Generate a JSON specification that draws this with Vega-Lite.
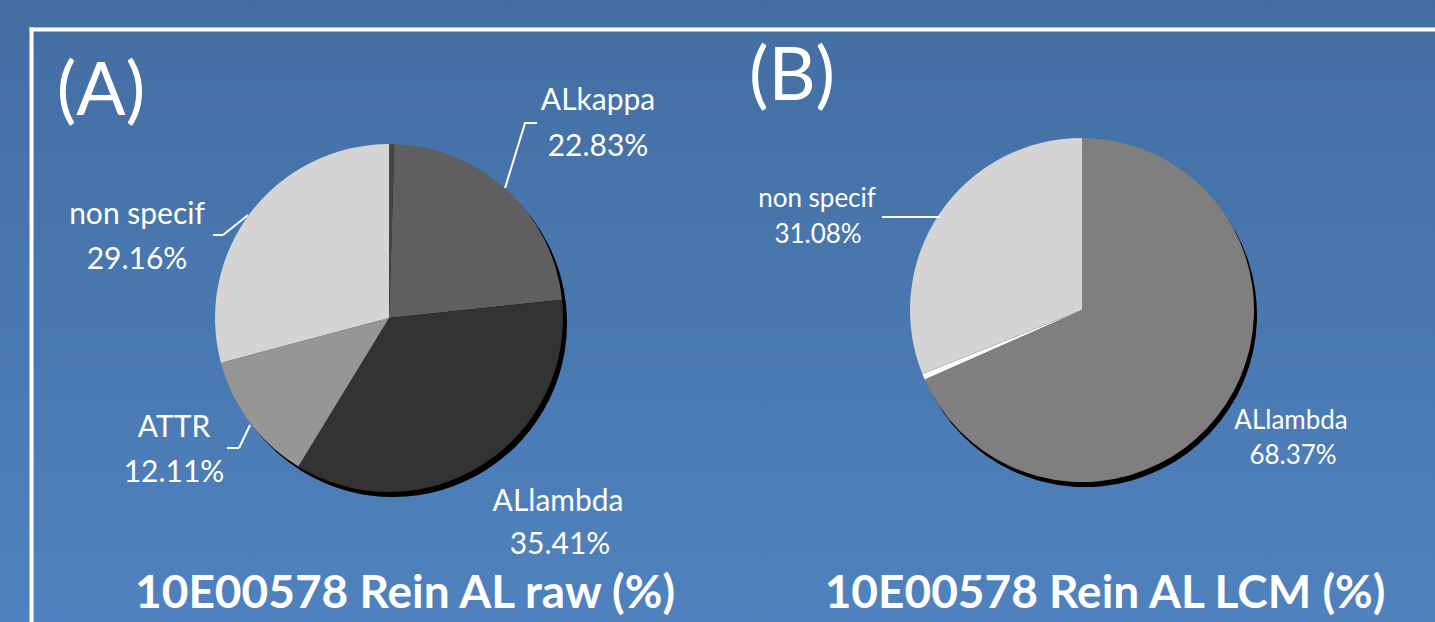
{
  "$schema": "https://vega.github.io/schema/vega-lite/v6.json",
  "width": 1435,
  "height": 622,
  "padding": 0,
  "autosize": {"type": "fit", "contains": "padding"},
  "background": "#4a78b0",
  "config": {"view": {"stroke": null}},
  "datasets": {
    "slices": [
      {"chart": "A", "slice": "other", "share": 0.0049, "order": 1},
      {"chart": "A", "slice": "ALkappa", "share": 0.2283, "order": 2},
      {"chart": "A", "slice": "ALlambda", "share": 0.3541, "order": 3},
      {"chart": "A", "slice": "ATTR", "share": 0.1211, "order": 4},
      {"chart": "A", "slice": "non specif", "share": 0.2916, "order": 5},
      {"chart": "B", "slice": "ALlambda", "share": 0.6837, "order": 1},
      {"chart": "B", "slice": "other", "share": 0.0055, "order": 2},
      {"chart": "B", "slice": "non specif", "share": 0.3108, "order": 3}
    ],
    "titles": [
      {"chart": "A", "tag": "(A)", "title": "10E00578 Rein AL raw (%)"},
      {"chart": "B", "tag": "(B)", "title": "10E00578 Rein AL LCM (%)"}
    ]
  },
  "data": {"name": "slices"},
  "resolve": {"scale": {"color": "independent"}},
  "layer": [
    {
      "data": {"name": "titles"},
      "transform": [{"filter": {"field": "chart", "equal": "A"}}],
      "mark": {"type": "rect", "fill": {"gradient": "linear", "x1": 0, "y1": 0, "x2": 0, "y2": 1, "stops": [{"offset": 0, "color": "#436ea2"}, {"offset": 1, "color": "#4f82be"}]}},
      "encoding": {}
    },
    {
      "data": {"name": "titles"},
      "transform": [{"filter": {"field": "chart", "equal": "A"}}],
      "mark": {"type": "rule", "color": "white", "strokeWidth": 4, "clip": true, "xOffset": -359.5, "x2Offset": 1046, "yOffset": -281.5, "y2Offset": -281.5},
      "encoding": {"x": {"field": "chart", "type": "nominal", "axis": null}, "x2": {"field": "chart"}, "y": {"datum": 0, "type": "quantitative", "axis": null}, "y2": {"datum": 0}}
    },
    {
      "data": {"name": "titles"},
      "transform": [{"filter": {"field": "chart", "equal": "A"}}],
      "mark": {"type": "rule", "color": "white", "strokeWidth": 4, "clip": true, "xOffset": -357.5, "x2Offset": -357.5, "yOffset": -283.5, "y2Offset": 311},
      "encoding": {"x": {"field": "chart", "type": "nominal", "axis": null}, "x2": {"field": "chart"}, "y": {"datum": 0, "type": "quantitative", "axis": null}, "y2": {"datum": 0}}
    },
    {
      "transform": [
        {"filter": {"field": "chart", "equal": "A"}},
        {"stack": "share", "groupby": ["chart"], "sort": [{"field": "order", "order": "ascending"}], "as": ["t0", "t1"]}
      ],
      "mark": {"type": "arc", "outerRadius": 174, "xOffset": 4, "yOffset": 12, "color": "#000000"},
      "encoding": {
        "x": {"field": "chart", "type": "nominal", "scale": {"type": "point", "domain": ["A", "B"], "padding": 0.5354, "align": 0.5243}, "axis": null},
        "theta": {"field": "t0", "type": "quantitative", "scale": {"domain": [0, 1]}},
        "theta2": {"field": "t1"}
      }
    },
    {
      "transform": [
        {"filter": {"field": "chart", "equal": "A"}},
        {"stack": "share", "groupby": ["chart"], "sort": [{"field": "order", "order": "ascending"}], "as": ["t0", "t1"]}
      ],
      "mark": {"type": "arc", "outerRadius": 174, "yOffset": 7},
      "encoding": {
        "x": {"field": "chart", "type": "nominal", "scale": {"type": "point", "domain": ["A", "B"], "padding": 0.5354, "align": 0.5243}, "axis": null},
        "theta": {"field": "t0", "type": "quantitative", "scale": {"domain": [0, 1]}},
        "theta2": {"field": "t1"},
        "color": {"field": "slice", "type": "nominal", "scale": {"domain": ["other", "ALkappa", "ALlambda", "ATTR", "non specif"], "range": ["#444444", "#5f5f5f", "#333333", "#969696", "#d4d4d4"]}, "legend": null}
      }
    },
    {
      "transform": [
        {"filter": {"field": "chart", "equal": "B"}},
        {"stack": "share", "groupby": ["chart"], "sort": [{"field": "order", "order": "ascending"}], "as": ["t0", "t1"]}
      ],
      "mark": {"type": "arc", "outerRadius": 172, "xOffset": 3, "yOffset": 4, "color": "#000000"},
      "encoding": {
        "x": {"field": "chart", "type": "nominal", "axis": null},
        "theta": {"field": "t0", "type": "quantitative"},
        "theta2": {"field": "t1"}
      }
    },
    {
      "transform": [
        {"filter": {"field": "chart", "equal": "B"}},
        {"stack": "share", "groupby": ["chart"], "sort": [{"field": "order", "order": "ascending"}], "as": ["t0", "t1"]}
      ],
      "mark": {"type": "arc", "outerRadius": 172, "yOffset": -1},
      "encoding": {
        "x": {"field": "chart", "type": "nominal", "axis": null},
        "theta": {"field": "t0", "type": "quantitative"},
        "theta2": {"field": "t1"},
        "color": {"field": "slice", "type": "nominal", "scale": {"domain": ["ALlambda", "other", "non specif"], "range": ["#7f7f7f", "#ffffff", "#d4d4d4"]}, "legend": null}
      }
    },
    {
      "transform": [{"filter": {"and": [{"field": "chart", "equal": "A"}, {"field": "slice", "equal": "ALkappa"}]}}],
      "mark": {"type": "text", "font": "Lato", "fontSize": 30, "color": "white", "align": "center", "baseline": "alphabetic", "dx": 209, "dy": -201},
      "encoding": {"x": {"field": "chart", "type": "nominal", "axis": null}, "text": {"field": "slice"}}
    },
    {
      "transform": [{"filter": {"and": [{"field": "chart", "equal": "A"}, {"field": "slice", "equal": "ALkappa"}]}}],
      "mark": {"type": "text", "font": "Lato", "fontSize": 30, "color": "white", "align": "center", "baseline": "alphabetic", "dx": 209, "dy": -155},
      "encoding": {"x": {"field": "chart", "type": "nominal", "axis": null}, "text": {"field": "share", "type": "quantitative", "format": ".2%"}}
    },
    {
      "transform": [{"filter": {"and": [{"field": "chart", "equal": "A"}, {"field": "slice", "equal": "non specif"}]}}],
      "mark": {"type": "text", "font": "Lato", "fontSize": 30, "color": "white", "align": "center", "baseline": "alphabetic", "dx": -252, "dy": -87},
      "encoding": {"x": {"field": "chart", "type": "nominal", "axis": null}, "text": {"field": "slice"}}
    },
    {
      "transform": [{"filter": {"and": [{"field": "chart", "equal": "A"}, {"field": "slice", "equal": "non specif"}]}}],
      "mark": {"type": "text", "font": "Lato", "fontSize": 30, "color": "white", "align": "center", "baseline": "alphabetic", "dx": -252, "dy": -42},
      "encoding": {"x": {"field": "chart", "type": "nominal", "axis": null}, "text": {"field": "share", "type": "quantitative", "format": ".2%"}}
    },
    {
      "transform": [{"filter": {"and": [{"field": "chart", "equal": "A"}, {"field": "slice", "equal": "ATTR"}]}}],
      "mark": {"type": "text", "font": "Lato", "fontSize": 30, "color": "white", "align": "center", "baseline": "alphabetic", "dx": -215, "dy": 126},
      "encoding": {"x": {"field": "chart", "type": "nominal", "axis": null}, "text": {"field": "slice"}}
    },
    {
      "transform": [{"filter": {"and": [{"field": "chart", "equal": "A"}, {"field": "slice", "equal": "ATTR"}]}}],
      "mark": {"type": "text", "font": "Lato", "fontSize": 30, "color": "white", "align": "center", "baseline": "alphabetic", "dx": -215, "dy": 171},
      "encoding": {"x": {"field": "chart", "type": "nominal", "axis": null}, "text": {"field": "share", "type": "quantitative", "format": ".2%"}}
    },
    {
      "transform": [{"filter": {"and": [{"field": "chart", "equal": "A"}, {"field": "slice", "equal": "ALlambda"}]}}],
      "mark": {"type": "text", "font": "Lato", "fontSize": 30, "color": "white", "align": "center", "baseline": "alphabetic", "dx": 169, "dy": 200},
      "encoding": {"x": {"field": "chart", "type": "nominal", "axis": null}, "text": {"field": "slice"}}
    },
    {
      "transform": [{"filter": {"and": [{"field": "chart", "equal": "A"}, {"field": "slice", "equal": "ALlambda"}]}}],
      "mark": {"type": "text", "font": "Lato", "fontSize": 30, "color": "white", "align": "center", "baseline": "alphabetic", "dx": 171, "dy": 243},
      "encoding": {"x": {"field": "chart", "type": "nominal", "axis": null}, "text": {"field": "share", "type": "quantitative", "format": ".2%"}}
    },
    {
      "transform": [{"filter": {"and": [{"field": "chart", "equal": "B"}, {"field": "slice", "equal": "non specif"}]}}],
      "mark": {"type": "text", "font": "Lato", "fontSize": 26, "color": "white", "align": "center", "baseline": "alphabetic", "dx": -265, "dy": -104},
      "encoding": {"x": {"field": "chart", "type": "nominal", "axis": null}, "text": {"field": "slice"}}
    },
    {
      "transform": [{"filter": {"and": [{"field": "chart", "equal": "B"}, {"field": "slice", "equal": "non specif"}]}}],
      "mark": {"type": "text", "font": "Lato", "fontSize": 26, "color": "white", "align": "center", "baseline": "alphabetic", "dx": -264, "dy": -68},
      "encoding": {"x": {"field": "chart", "type": "nominal", "axis": null}, "text": {"field": "share", "type": "quantitative", "format": ".2%"}}
    },
    {
      "transform": [{"filter": {"and": [{"field": "chart", "equal": "B"}, {"field": "slice", "equal": "ALlambda"}]}}],
      "mark": {"type": "text", "font": "Lato", "fontSize": 26, "color": "white", "align": "center", "baseline": "alphabetic", "dx": 209, "dy": 118},
      "encoding": {"x": {"field": "chart", "type": "nominal", "axis": null}, "text": {"field": "slice"}}
    },
    {
      "transform": [{"filter": {"and": [{"field": "chart", "equal": "B"}, {"field": "slice", "equal": "ALlambda"}]}}],
      "mark": {"type": "text", "font": "Lato", "fontSize": 26, "color": "white", "align": "center", "baseline": "alphabetic", "dx": 211, "dy": 153},
      "encoding": {"x": {"field": "chart", "type": "nominal", "axis": null}, "text": {"field": "share", "type": "quantitative", "format": ".2%"}}
    },
    {
      "transform": [{"filter": {"and": [{"field": "chart", "equal": "A"}, {"field": "slice", "equal": "ALkappa"}]}}],
      "mark": {"type": "rule", "color": "white", "strokeWidth": 2, "xOffset": 116, "x2Offset": 136, "yOffset": -123, "y2Offset": -188},
      "encoding": {"x": {"field": "chart", "type": "nominal", "axis": null}, "x2": {"field": "chart"}, "y": {"datum": 0, "type": "quantitative", "scale": {"domain": [-1, 1]}, "axis": null}, "y2": {"datum": 0}}
    },
    {
      "transform": [{"filter": {"and": [{"field": "chart", "equal": "A"}, {"field": "slice", "equal": "ALkappa"}]}}],
      "mark": {"type": "rule", "color": "white", "strokeWidth": 2, "xOffset": 135, "x2Offset": 148, "yOffset": -188, "y2Offset": -188},
      "encoding": {"x": {"field": "chart", "type": "nominal", "axis": null}, "x2": {"field": "chart"}, "y": {"datum": 0, "type": "quantitative", "axis": null}, "y2": {"datum": 0}}
    },
    {
      "transform": [{"filter": {"and": [{"field": "chart", "equal": "A"}, {"field": "slice", "equal": "non specif"}]}}],
      "mark": {"type": "rule", "color": "white", "strokeWidth": 2, "xOffset": -176, "x2Offset": -166, "yOffset": -76, "y2Offset": -76},
      "encoding": {"x": {"field": "chart", "type": "nominal", "axis": null}, "x2": {"field": "chart"}, "y": {"datum": 0, "type": "quantitative", "axis": null}, "y2": {"datum": 0}}
    },
    {
      "transform": [{"filter": {"and": [{"field": "chart", "equal": "A"}, {"field": "slice", "equal": "non specif"}]}}],
      "mark": {"type": "rule", "color": "white", "strokeWidth": 2, "xOffset": -166, "x2Offset": -141, "yOffset": -76, "y2Offset": -96},
      "encoding": {"x": {"field": "chart", "type": "nominal", "axis": null}, "x2": {"field": "chart"}, "y": {"datum": 0, "type": "quantitative", "axis": null}, "y2": {"datum": 0}}
    },
    {
      "transform": [{"filter": {"and": [{"field": "chart", "equal": "A"}, {"field": "slice", "equal": "ATTR"}]}}],
      "mark": {"type": "rule", "color": "white", "strokeWidth": 2, "xOffset": -162, "x2Offset": -150, "yOffset": 137, "y2Offset": 137},
      "encoding": {"x": {"field": "chart", "type": "nominal", "axis": null}, "x2": {"field": "chart"}, "y": {"datum": 0, "type": "quantitative", "axis": null}, "y2": {"datum": 0}}
    },
    {
      "transform": [{"filter": {"and": [{"field": "chart", "equal": "A"}, {"field": "slice", "equal": "ATTR"}]}}],
      "mark": {"type": "rule", "color": "white", "strokeWidth": 2, "xOffset": -150, "x2Offset": -139, "yOffset": 137, "y2Offset": 114},
      "encoding": {"x": {"field": "chart", "type": "nominal", "axis": null}, "x2": {"field": "chart"}, "y": {"datum": 0, "type": "quantitative", "axis": null}, "y2": {"datum": 0}}
    },
    {
      "transform": [{"filter": {"and": [{"field": "chart", "equal": "B"}, {"field": "slice", "equal": "non specif"}]}}],
      "mark": {"type": "rule", "color": "white", "strokeWidth": 2, "xOffset": -200, "x2Offset": -142, "yOffset": -94, "y2Offset": -94},
      "encoding": {"x": {"field": "chart", "type": "nominal", "axis": null}, "x2": {"field": "chart"}, "y": {"datum": 0, "type": "quantitative", "axis": null}, "y2": {"datum": 0}}
    },
    {
      "data": {"name": "titles"},
      "transform": [{"filter": {"field": "chart", "equal": "A"}}],
      "mark": {"type": "text", "font": "Lato", "fontSize": 73, "color": "white", "align": "center", "baseline": "alphabetic", "dx": -288, "dy": -196},
      "encoding": {"x": {"field": "chart", "type": "nominal", "axis": null}, "text": {"field": "tag"}}
    },
    {
      "data": {"name": "titles"},
      "transform": [{"filter": {"field": "chart", "equal": "B"}}],
      "mark": {"type": "text", "font": "Lato", "fontSize": 73, "color": "white", "align": "center", "baseline": "alphabetic", "dx": -290, "dy": -211},
      "encoding": {"x": {"field": "chart", "type": "nominal", "axis": null}, "text": {"field": "tag"}}
    },
    {
      "data": {"name": "titles"},
      "transform": [{"filter": {"field": "chart", "equal": "A"}}],
      "mark": {"type": "text", "font": "Lato", "fontSize": 46, "fontWeight": "bold", "color": "white", "align": "center", "baseline": "alphabetic", "dx": 16, "dy": 297},
      "encoding": {"x": {"field": "chart", "type": "nominal", "axis": null}, "text": {"field": "title"}}
    },
    {
      "data": {"name": "titles"},
      "transform": [{"filter": {"field": "chart", "equal": "B"}}],
      "mark": {"type": "text", "font": "Lato", "fontSize": 46, "fontWeight": "bold", "color": "white", "align": "center", "baseline": "alphabetic", "dx": 23, "dy": 297},
      "encoding": {"x": {"field": "chart", "type": "nominal", "axis": null}, "text": {"field": "title"}}
    }
  ]
}
